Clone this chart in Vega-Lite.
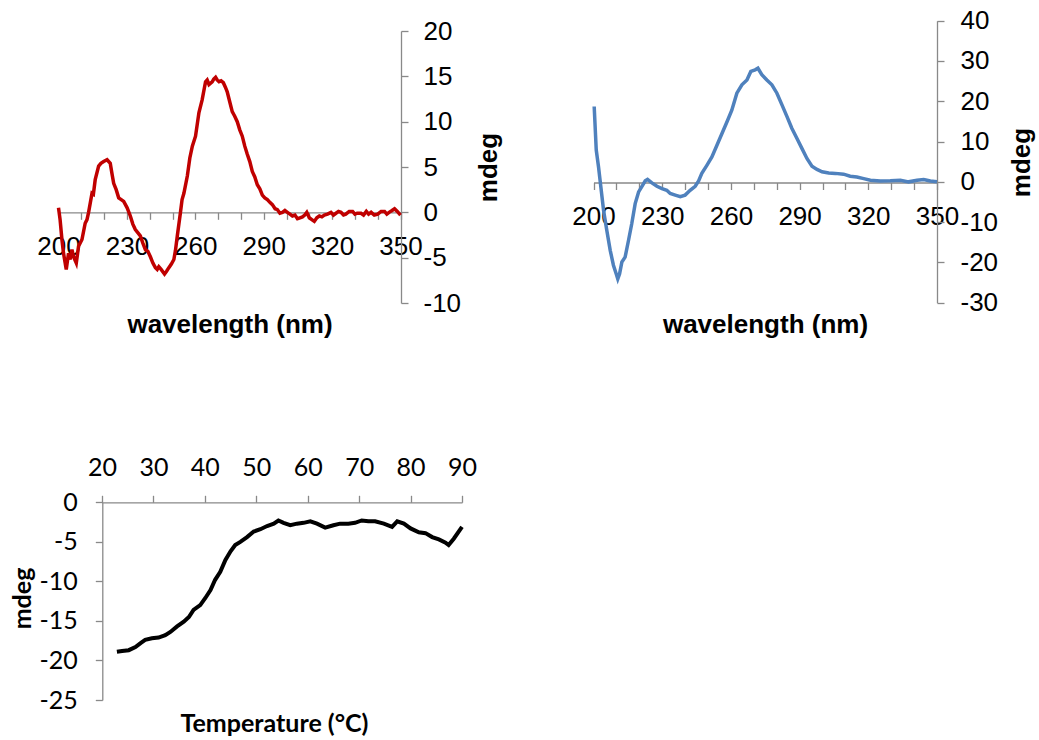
{
  "$schema": "https://vega.github.io/schema/vega-lite/v6.json",
  "width": 1039,
  "height": 740,
  "autosize": "none",
  "padding": 0,
  "background": "white",
  "config": {
    "view": {"stroke": null},
    "axis": {
      "grid": false,
      "domainColor": "#898989",
      "tickColor": "#898989",
      "domainWidth": 1.3,
      "tickWidth": 1.3,
      "tickSize": 7,
      "labelColor": "#000000",
      "titleColor": "#000000",
      "labelFlush": false,
      "labelOverlap": false
    }
  },
  "datasets": {
    "red": [
      {"wl":200,"v":0.5},{"wl":200.7,"v":-0.8},{"wl":201.5,"v":-3.0},{"wl":202.2,"v":-4.5},{"wl":203.4,"v":-6.3},{"wl":204.4,"v":-4.5},{"wl":205.1,"v":-5.2},{"wl":205.9,"v":-4.1},{"wl":206.6,"v":-4.9},{"wl":207.8,"v":-5.6},{"wl":208.8,"v":-3.75},{"wl":210.3,"v":-3.0},{"wl":211.7,"v":-1.2},{"wl":212.5,"v":-0.8},{"wl":213.2,"v":0},{"wl":214.7,"v":2.1},{"wl":215.3,"v":2.0},{"wl":216.1,"v":3.6},{"wl":217.6,"v":5.1},{"wl":218.6,"v":5.4},{"wl":219.8,"v":5.6},{"wl":221.3,"v":5.8},{"wl":222.7,"v":5.4},{"wl":223.5,"v":4.2},{"wl":224.2,"v":3.2},{"wl":225.3,"v":2.5},{"wl":226.4,"v":1.6},{"wl":227.5,"v":1.4},{"wl":228.6,"v":1.2},{"wl":230.1,"v":0.5},{"wl":231.5,"v":-0.4},{"wl":232.6,"v":-1.3},{"wl":233.7,"v":-1.9},{"wl":235.9,"v":-2.6},{"wl":237,"v":-3.4},{"wl":238.1,"v":-4.1},{"wl":239.2,"v":-4.3},{"wl":240.3,"v":-4.9},{"wl":241.4,"v":-5.6},{"wl":242.5,"v":-6.1},{"wl":243.3,"v":-6.3},{"wl":244,"v":-6.0},{"wl":245,"v":-6.3},{"wl":246.5,"v":-6.8},{"wl":247.4,"v":-6.5},{"wl":248.4,"v":-6.1},{"wl":249.5,"v":-5.7},{"wl":250.6,"v":-5.2},{"wl":251.3,"v":-4.2},{"wl":252.1,"v":-2.6},{"wl":253.5,"v":0},{"wl":254.2,"v":1.4},{"wl":255,"v":2.1},{"wl":256.5,"v":4.0},{"wl":257.6,"v":6.0},{"wl":258.7,"v":7.3},{"wl":260.1,"v":8.4},{"wl":261.6,"v":11.0},{"wl":263,"v":12.4},{"wl":264.5,"v":14.4},{"wl":265.2,"v":14.6},{"wl":266,"v":14.1},{"wl":267.4,"v":14.4},{"wl":268.1,"v":14.7},{"wl":268.9,"v":14.9},{"wl":269.6,"v":14.6},{"wl":270.4,"v":14.4},{"wl":271.3,"v":14.5},{"wl":272.3,"v":14.3},{"wl":273.2,"v":13.8},{"wl":274,"v":13.3},{"wl":275.1,"v":12.2},{"wl":276.2,"v":11.1},{"wl":277.3,"v":10.6},{"wl":278.4,"v":10.0},{"wl":279.5,"v":9.1},{"wl":280.6,"v":8.4},{"wl":281.7,"v":7.3},{"wl":282.8,"v":6.4},{"wl":283.9,"v":5.6},{"wl":285,"v":4.5},{"wl":286.1,"v":3.9},{"wl":287.2,"v":3.05},{"wl":288.3,"v":2.6},{"wl":289.4,"v":1.9},{"wl":290.5,"v":1.6},{"wl":291.6,"v":1.4},{"wl":292.7,"v":1.1},{"wl":293.8,"v":0.85},{"wl":295,"v":0.4},{"wl":296,"v":0.3},{"wl":297.1,"v":-0.1},{"wl":298.2,"v":0},{"wl":299.3,"v":0.2},{"wl":300.4,"v":0},{"wl":301.5,"v":-0.2},{"wl":302.6,"v":-0.4},{"wl":303.7,"v":-0.3},{"wl":304.8,"v":-0.7},{"wl":305.9,"v":-0.6},{"wl":307,"v":-0.5},{"wl":308,"v":-0.3},{"wl":308.9,"v":0},{"wl":310,"v":-0.6},{"wl":311.1,"v":-0.8},{"wl":312.2,"v":-1.0},{"wl":313.3,"v":-0.6},{"wl":314.4,"v":-0.4},{"wl":315.5,"v":-0.5},{"wl":316.6,"v":-0.3},{"wl":318,"v":-0.2},{"wl":319.5,"v":0},{"wl":320.6,"v":-0.3},{"wl":321.7,"v":-0.1},{"wl":322.8,"v":0.1},{"wl":323.9,"v":0},{"wl":325,"v":-0.3},{"wl":326,"v":-0.2},{"wl":327.5,"v":0.1},{"wl":329,"v":0.1},{"wl":330,"v":-0.2},{"wl":331,"v":-0.1},{"wl":332.7,"v":-0.1},{"wl":333.8,"v":-0.3},{"wl":335,"v":0.1},{"wl":336,"v":-0.2},{"wl":337.1,"v":0},{"wl":338.5,"v":-0.3},{"wl":340,"v":-0.2},{"wl":341.5,"v":0.1},{"wl":343,"v":0.1},{"wl":344,"v":-0.2},{"wl":345,"v":0},{"wl":346.3,"v":0.2},{"wl":347.4,"v":0.4},{"wl":348.6,"v":0.1},{"wl":350,"v":-0.3}
    ],
    "blue": [
      {"wl":200.3,"v":18.7},{"wl":201.2,"v":7.9},{"wl":202.2,"v":3.7},{"wl":203.2,"v":-1.2},{"wl":204.4,"v":-7.1},{"wl":205.8,"v":-12.0},{"wl":207.3,"v":-17.0},{"wl":208.7,"v":-20.7},{"wl":209.9,"v":-22.8},{"wl":210.6,"v":-24.1},{"wl":211.4,"v":-22.8},{"wl":212.4,"v":-19.9},{"wl":213.8,"v":-18.7},{"wl":215.3,"v":-14.5},{"wl":216.7,"v":-10.4},{"wl":218.2,"v":-5.4},{"wl":219.7,"v":-2.5},{"wl":221.1,"v":-1.2},{"wl":222.6,"v":0.25},{"wl":223.6,"v":0.6},{"wl":225.5,"v":-0.25},{"wl":227.7,"v":-1.1},{"wl":229.9,"v":-1.7},{"wl":232,"v":-2.1},{"wl":233.5,"v":-2.9},{"wl":235.7,"v":-3.3},{"wl":237.9,"v":-3.7},{"wl":240,"v":-3.3},{"wl":242.2,"v":-2.1},{"wl":244.4,"v":-1.1},{"wl":245.9,"v":0.25},{"wl":247.3,"v":2.1},{"wl":249.5,"v":4.1},{"wl":251.7,"v":6.2},{"wl":253.9,"v":9.1},{"wl":256.1,"v":12.0},{"wl":258.3,"v":14.9},{"wl":260.4,"v":17.8},{"wl":262.6,"v":22.0},{"wl":264.8,"v":24.1},{"wl":267,"v":25.3},{"wl":268.7,"v":27.4},{"wl":270.6,"v":27.8},{"wl":271.8,"v":28.2},{"wl":273.5,"v":26.6},{"wl":275.7,"v":25.3},{"wl":277.9,"v":24.1},{"wl":280.1,"v":22.0},{"wl":282.3,"v":19.1},{"wl":284.5,"v":16.2},{"wl":286.6,"v":13.3},{"wl":288.8,"v":10.8},{"wl":291,"v":8.3},{"wl":293.2,"v":5.8},{"wl":295.4,"v":3.9},{"wl":297.6,"v":3.1},{"wl":299.8,"v":2.5},{"wl":302.7,"v":2.2},{"wl":305.6,"v":2.1},{"wl":309.2,"v":1.9},{"wl":312.1,"v":1.4},{"wl":315,"v":1.2},{"wl":318,"v":0.8},{"wl":320.9,"v":0.4},{"wl":325.2,"v":0.2},{"wl":329.6,"v":0.25},{"wl":334,"v":0.4},{"wl":337.6,"v":0},{"wl":341.3,"v":0.4},{"wl":344.2,"v":0.6},{"wl":347.1,"v":0.2},{"wl":350,"v":0}
    ],
    "black": [
      {"t":22.9,"v":-18.9},{"t":23.9,"v":-18.8},{"t":25.2,"v":-18.7},{"t":26.5,"v":-18.3},{"t":27.5,"v":-17.8},{"t":28.4,"v":-17.4},{"t":29.7,"v":-17.2},{"t":31,"v":-17.1},{"t":32.3,"v":-16.8},{"t":33.3,"v":-16.4},{"t":34.6,"v":-15.7},{"t":35.9,"v":-15.1},{"t":36.9,"v":-14.5},{"t":37.8,"v":-13.6},{"t":39.1,"v":-13.0},{"t":40.1,"v":-12.1},{"t":41.1,"v":-11.1},{"t":42,"v":-9.8},{"t":43,"v":-8.8},{"t":44,"v":-7.3},{"t":45,"v":-6.2},{"t":45.9,"v":-5.4},{"t":46.9,"v":-5.0},{"t":48.2,"v":-4.4},{"t":49.5,"v":-3.7},{"t":50.8,"v":-3.4},{"t":52.1,"v":-3.0},{"t":53.4,"v":-2.7},{"t":54.3,"v":-2.3},{"t":55.3,"v":-2.6},{"t":56.6,"v":-2.9},{"t":57.9,"v":-2.7},{"t":59.2,"v":-2.6},{"t":60.5,"v":-2.4},{"t":61.8,"v":-2.7},{"t":63.4,"v":-3.2},{"t":65,"v":-2.9},{"t":66.3,"v":-2.7},{"t":67.9,"v":-2.7},{"t":69.2,"v":-2.6},{"t":70.5,"v":-2.3},{"t":71.8,"v":-2.4},{"t":73.1,"v":-2.4},{"t":74.8,"v":-2.7},{"t":76.4,"v":-3.1},{"t":77.4,"v":-2.4},{"t":78.7,"v":-2.7},{"t":80,"v":-3.3},{"t":81.6,"v":-3.8},{"t":82.9,"v":-3.9},{"t":84.2,"v":-4.4},{"t":85.5,"v":-4.7},{"t":86.8,"v":-5.1},{"t":87.4,"v":-5.4},{"t":88.4,"v":-4.6},{"t":90,"v":-3.1}
    ]
  },
  "layer": [
    {
      "data": {"name": "red"},
      "mark": {"type": "line", "color": "#C00000", "strokeWidth": 3.5},
      "encoding": {
        "x": {
          "field": "wl", "type": "quantitative",
          "scale": {"domain": [200, 350], "range": [58.5, 400.5], "nice": false, "zero": false},
          "axis": {
            "orient": "bottom", "offset": -527.7,
            "values": [200,210,220,230,240,250,260,270,280,290,300,310,320,330,340,350],
            "labelExpr": "(datum.value - 200) % 30 == 0 ? '' + datum.value : ''",
            "labelFont": "Liberation Sans", "labelFontSize": 26, "labelPadding": 14,
            "title": "wavelength (nm)", "titleFont": "Liberation Sans", "titleFontSize": 26, "titleFontWeight": "bold",
            "titleX": 229.5, "titleY": 120, "titleBaseline": "alphabetic", "titleAlign": "center"
          }
        },
        "y": {
          "field": "v", "type": "quantitative",
          "scale": {"domain": [-10, 20], "range": [303, 31], "nice": false, "zero": false},
          "axis": {
            "orient": "right", "offset": -638,
            "values": [-10,-5,0,5,10,15,20],
            "labelExpr": "datum.value < 0 ? '-' + abs(datum.value) : '' + datum.value",
            "labelFont": "Liberation Sans", "labelFontSize": 26, "labelPadding": 15,
            "title": "mdeg", "titleFont": "Liberation Sans", "titleFontSize": 26, "titleFontWeight": "bold",
            "titleAngle": 270, "titleX": 87, "titleY": 167, "titleBaseline": "middle", "titleAlign": "center"
          }
        }
      }
    },
    {
      "data": {"name": "blue"},
      "mark": {"type": "line", "color": "#4F81BD", "strokeWidth": 3.5},
      "encoding": {
        "x": {
          "field": "wl", "type": "quantitative",
          "scale": {"domain": [200, 350], "range": [593.5, 937], "nice": false, "zero": false},
          "axis": {
            "orient": "bottom", "offset": -557.5,
            "values": [200,210,220,230,240,250,260,270,280,290,300,310,320,330,340,350],
            "labelExpr": "(datum.value - 200) % 30 == 0 ? '' + datum.value : ''",
            "labelFont": "Liberation Sans", "labelFontSize": 26, "labelPadding": 14,
            "title": "wavelength (nm)", "titleFont": "Liberation Sans", "titleFontSize": 26, "titleFontWeight": "bold",
            "titleX": 765, "titleY": 149.5, "titleBaseline": "alphabetic", "titleAlign": "center"
          }
        },
        "y": {
          "field": "v", "type": "quantitative",
          "scale": {"domain": [-30, 40], "range": [302.7, 20.7], "nice": false, "zero": false},
          "axis": {
            "orient": "right", "offset": -102,
            "values": [-30,-20,-10,0,10,20,30,40],
            "labelExpr": "datum.value < 0 ? '-' + abs(datum.value) : '' + datum.value",
            "labelFont": "Liberation Sans", "labelFontSize": 26, "labelPadding": 16,
            "title": "mdeg", "titleFont": "Liberation Sans", "titleFontSize": 26, "titleFontWeight": "bold",
            "titleAngle": 270, "titleX": 84, "titleY": 162, "titleBaseline": "middle", "titleAlign": "center"
          }
        }
      }
    },
    {
      "data": {"name": "black"},
      "mark": {"type": "line", "color": "#000000", "strokeWidth": 4},
      "encoding": {
        "x": {
          "field": "t", "type": "quantitative",
          "scale": {"domain": [20, 90], "range": [102, 462], "nice": false, "zero": false},
          "axis": {
            "orient": "top", "offset": -502.3,
            "values": [20,30,40,50,60,70,80,90],
            "labelFont": "Lato", "labelFontSize": 25, "labelPadding": 20, "labelBaseline": "alphabetic",
            "title": "Temperature (°C)", "titleFont": "Lato", "titleFontSize": 25, "titleFontWeight": "bold",
            "titleX": 274, "titleY": 229, "titleBaseline": "alphabetic", "titleAlign": "center"
          }
        },
        "y": {
          "field": "v", "type": "quantitative",
          "scale": {"domain": [-25, 0], "range": [700, 502.3], "nice": false, "zero": false},
          "axis": {
            "orient": "left", "offset": -102.3,
            "values": [-25,-20,-15,-10,-5,0],
            "labelExpr": "datum.value < 0 ? '-' + abs(datum.value) : '' + datum.value",
            "labelFont": "Lato", "labelFontSize": 25, "labelPadding": 18,
            "title": "mdeg", "titleFont": "Lato", "titleFontSize": 25, "titleFontWeight": "bold",
            "titleAngle": 270, "titleX": -80, "titleY": 598, "titleBaseline": "middle", "titleAlign": "center"
          }
        }
      }
    }
  ],
  "resolve": {
    "scale": {"x": "independent", "y": "independent"},
    "axis": {"x": "independent", "y": "independent"}
  }
}
